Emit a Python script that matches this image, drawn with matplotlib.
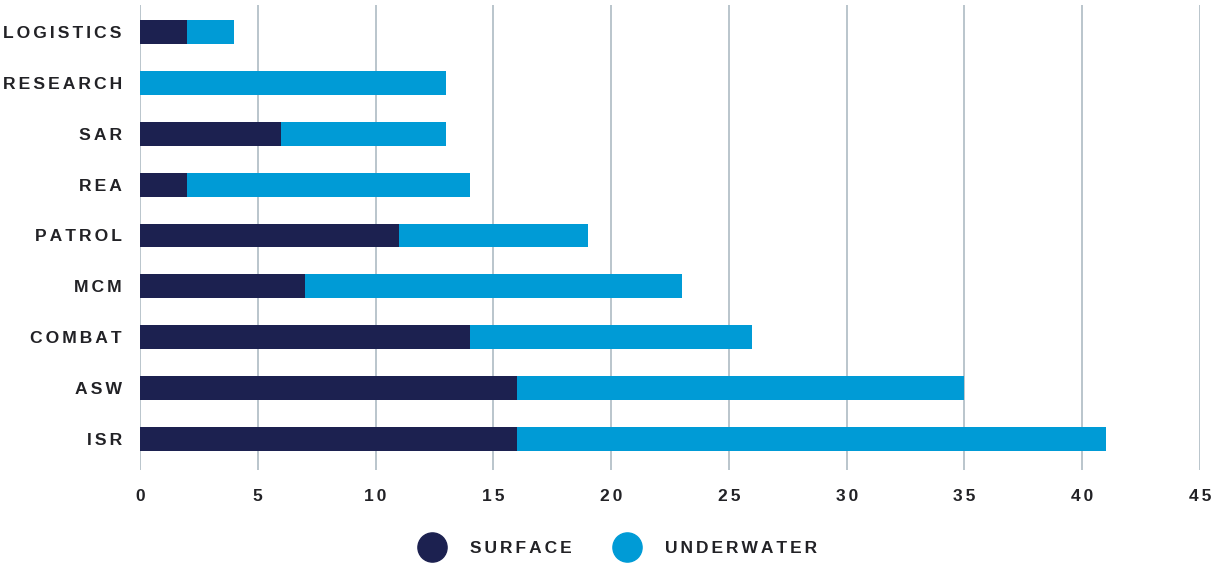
import matplotlib.pyplot as plt
from matplotlib.lines import Line2D
import numpy as np

roles = ["ISR", "ASW", "COMBAT", "MCM", "PATROL", "REA", "SAR", "RESEARCH", "LOGISTICS"]
surface = [16, 16, 14, 7, 11, 2, 6, 0, 2]
underwater = [25, 19, 12, 16, 8, 12, 7, 13, 2]
xticks = [0, 5, 10, 15, 20, 25, 30, 35, 40, 45]

NAVY = "#1c2150"
BLUE = "#009bd6"
GRID = "#b4c0c8"
TEXT = "#222226"

plt.rcParams['font.family'] = ['Liberation Sans', 'DejaVu Sans']


def spaced(s, gap="\u200a\u200a"):
    # widen the tracking of labels by putting hair spaces between letters
    return gap.join(s)


fig = plt.figure(figsize=(12.13, 5.63), dpi=100)
ax = fig.add_axes([140 / 1213, 1 - 470 / 563, 1060 / 1213, 465 / 563])

y = np.arange(len(roles))
h = 0.47
ax.barh(y, surface, height=h, color=NAVY, zorder=3)
ax.barh(y, underwater, left=surface, height=h, color=BLUE, zorder=3)

ax.set_xlim(0, 45)
ax.set_ylim(-0.61, 8.53)
ax.set_xticks(xticks)
ax.set_xticklabels([spaced(str(t)) for t in xticks], fontsize=12.5,
                   fontweight="bold", color=TEXT)
ax.set_yticks(y)
ax.set_yticklabels([spaced(r) for r in roles], fontsize=12.6,
                   fontweight="bold", color=TEXT)
ax.tick_params(axis="both", length=0)
ax.tick_params(axis="x", pad=14)
ax.tick_params(axis="y", pad=13)
ax.grid(axis="x", color=GRID, linewidth=1.3, zorder=0)
for sp in ax.spines.values():
    sp.set_visible(False)

handles = [
    Line2D([], [], marker="o", linestyle="none", markersize=21,
           markerfacecolor=NAVY, markeredgecolor=NAVY),
    Line2D([], [], marker="o", linestyle="none", markersize=21,
           markerfacecolor=BLUE, markeredgecolor=BLUE),
]
leg = fig.legend(handles, [spaced("SURFACE"), spaced("UNDERWATER")],
                 loc="center", bbox_to_anchor=(616 / 1213, 1 - 548 / 563),
                 ncol=2, frameon=False, handletextpad=1.2, columnspacing=2.2,
                 prop={"weight": "bold", "size": 12.5})
for t in leg.get_texts():
    t.set_color(TEXT)

fig.savefig("out.png", dpi=100)
